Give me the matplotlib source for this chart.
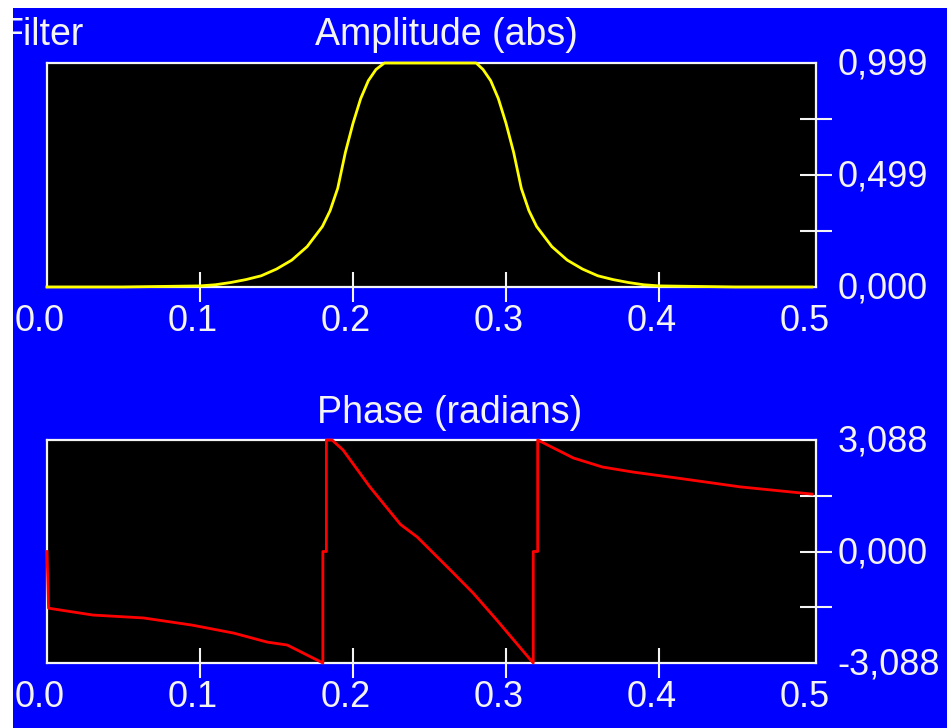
import matplotlib
matplotlib.use("Agg")
import matplotlib.pyplot as plt
import matplotlib.transforms as mtransforms
from matplotlib.patches import Rectangle

# ---- data ----
freq_amp = [0.0, 0.05, 0.10, 0.11, 0.12, 0.13, 0.14, 0.15, 0.16, 0.17, 0.18, 0.185,
            0.19, 0.195, 0.20, 0.205, 0.21, 0.215, 0.2205, 0.25, 0.2805, 0.285, 0.29,
            0.295, 0.30, 0.305, 0.31, 0.315, 0.32, 0.33, 0.34, 0.35, 0.36, 0.37, 0.38,
            0.39, 0.40, 0.45, 0.50]
amp = [0.0, 0.0, 0.005, 0.01, 0.02, 0.033, 0.05, 0.08, 0.12, 0.18, 0.27, 0.34,
       0.44, 0.60, 0.73, 0.84, 0.92, 0.97, 0.999, 0.999, 0.999, 0.97, 0.92,
       0.84, 0.73, 0.60, 0.44, 0.34, 0.27, 0.18, 0.12, 0.08, 0.05, 0.033, 0.02,
       0.01, 0.005, 0.0, 0.0]

freq_ph = [0.0, 0.001, 0.03, 0.063, 0.095, 0.122, 0.144, 0.157, 0.1803, 0.1803,
           0.1826, 0.1826, 0.1863, 0.1935, 0.211, 0.231, 0.242, 0.265, 0.2785,
           0.294, 0.316, 0.3178, 0.3178, 0.3207, 0.3207, 0.344, 0.363, 0.383,
           0.416, 0.453, 0.50]
phase = [0.0, -1.57, -1.76, -1.84, -2.04, -2.26, -2.51, -2.59, -3.088, 0.0,
         0.0, 3.088, 3.088, 2.81, 1.79, 0.75, 0.40, -0.57, -1.15,
         -1.90, -3.0, -3.088, 0.0, 0.0, 3.088, 2.59, 2.34, 2.20,
         2.01, 1.79, 1.59]

x_ticks = [0.0, 0.1, 0.2, 0.3, 0.4, 0.5]
x_labels = ["0.0", "0.1", "0.2", "0.3", "0.4", "0.5"]
amp_ticks = [0.0, 0.25, 0.499, 0.75, 0.999]
amp_labels = ["0,000", "", "0,499", "", "0,999"]
ph_ticks = [-3.088, -1.544, 0.0, 1.544, 3.088]
ph_labels = ["-3,088", "", "0,000", "", "3,088"]

BLUE = "#0000FF"
FG = "#F4F4F4"
W, H = 947.0, 728.0

plt.rcParams['font.family'] = ['Liberation Sans', 'DejaVu Sans']
fs_tick = 26
fs_title = 27

fig = plt.figure(figsize=(9.47, 7.28), dpi=100, facecolor=BLUE)
# white strips of the screenshot crop
fig.add_artist(Rectangle((0, 1 - 8 / H), 1, 8 / H, transform=fig.transFigure,
                         facecolor="white", edgecolor="none", zorder=20))
fig.add_artist(Rectangle((0, 0), 13 / W, 1, transform=fig.transFigure,
                         facecolor="white", edgecolor="none", zorder=20))


def style_axes(ax, yticks, ylabels, ylim):
    ax.set_facecolor("black")
    for s in ax.spines.values():
        s.set_color(FG)
        s.set_linewidth(1.6)
    ax.set_xlim(0, 0.5026)
    ax.set_ylim(*ylim)
    ax.set_xticks(x_ticks)
    ax.set_xticklabels(x_labels)
    ax.yaxis.tick_right()
    ax.set_yticks(yticks)
    ax.set_yticklabels(ylabels)
    ax.tick_params(axis="x", direction="inout", length=21, width=1.5, color=FG,
                   labelcolor=FG, labelsize=fs_tick, pad=2)
    ax.tick_params(axis="y", direction="inout", length=23, width=1.5, color=FG,
                   labelcolor=FG, labelsize=fs_tick, pad=4)
    # no tick marks in the corners
    for t in (ax.xaxis.get_major_ticks()[0], ax.xaxis.get_major_ticks()[-1]):
        t.tick1line.set_visible(False)
    for t in (ax.yaxis.get_major_ticks()[0], ax.yaxis.get_major_ticks()[-1]):
        t.tick2line.set_visible(False)
    shift = mtransforms.ScaledTranslation(-7 / 100, 0, fig.dpi_scale_trans)
    for lab in ax.get_xticklabels():
        lab.set_transform(lab.get_transform() + shift)
    yshift = mtransforms.ScaledTranslation(0, 2 / 100, fig.dpi_scale_trans)
    for lab in ax.get_yticklabels(which="both"):
        lab.set_transform(lab.get_transform() + yshift)


# ---- amplitude ----
ax1 = fig.add_axes([47 / W, (H - 287) / H, 769 / W, 224 / H])
style_axes(ax1, amp_ticks, amp_labels, (0, 0.999))
ax1.plot(freq_amp, amp, color="#FFFF00", lw=2.0, clip_on=False, zorder=3)

# ---- phase ----
ax2 = fig.add_axes([47 / W, (H - 663) / H, 769 / W, 223 / H])
style_axes(ax2, ph_ticks, ph_labels, (-3.088, 3.088))
ax2.plot(freq_ph, phase, color="#FF0000", lw=2.0, clip_on=False, zorder=3)

fig.text(1 / W, 1 - 45 / H, "Filter", color=FG, fontsize=fs_title, ha="left", va="baseline")
fig.text(446 / W, 1 - 45 / H, "Amplitude (abs)", color=FG, fontsize=fs_title,
         ha="center", va="baseline")
fig.text(450 / W, 1 - 423 / H, "Phase (radians)", color=FG, fontsize=fs_title,
         ha="center", va="baseline")

fig.savefig("out.png", dpi=100, facecolor=BLUE)
